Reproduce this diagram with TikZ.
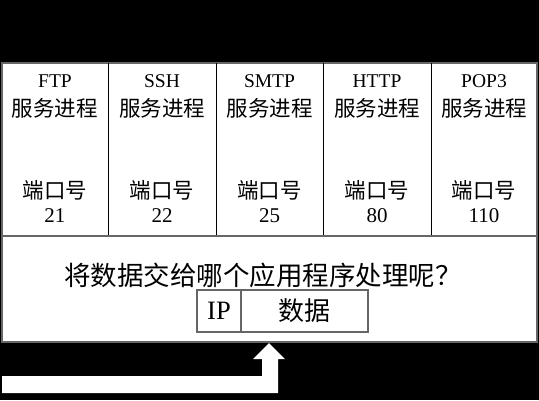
\documentclass[tikz,border=0pt]{standalone}
\usepackage{fontspec}
\setmainfont{Liberation Serif}
\newfontfamily\cjk{Noto Sans CJK SC}
\begin{document}
\begin{tikzpicture}[x=1pt,y=-1pt,
  lat/.style={font=\fontsize{19.5}{19.5}\selectfont, inner sep=0pt, anchor=center},
  num/.style={font=\fontsize{21}{21}\selectfont, inner sep=0pt, anchor=center},
  han/.style={font=\cjk\fontsize{21.5}{22}\selectfont, inner sep=0pt, anchor=center},
  big/.style={font=\cjk\fontsize{26.5}{26.5}\selectfont, inner sep=0pt, anchor=center},
  mid/.style={font=\cjk\fontsize{26}{26}\selectfont, inner sep=0pt, anchor=center},
  biglat/.style={font=\fontsize{26.5}{26.5}\selectfont, inner sep=0pt, anchor=center},
  frame/.style={draw=black!60, line width=1.2pt}]
\fill[black] (0,0) rectangle (539,400);
\useasboundingbox (0,0) rectangle (539,400);
\fill[white] (2,63) rectangle (537,342);
\draw[frame] (2,63) rectangle (537,342);
\foreach \x in {108,216,323,431} \draw[black, line width=1pt] (\x,63) -- (\x,236);
\draw[frame] (2,236) -- (537,236);
% columns
\foreach \cx/\nm/\pt/\id in {55/FTP/21/a, 162/SSH/22/b, 269.5/SMTP/25/c, 377/HTTP/80/d, 484/POP3/110/e}{
  \node[lat] (p\id) at (\cx,81.5) {\nm};
  \node[han] (s\id) at (\cx,108) {服务进程};
  \node[han] (k\id) at (\cx,190) {端口号};
  \node[num] (n\id) at (\cx,216) {\pt};
}
\node[big] (q) at (263,275) {将数据交给哪个应用程序处理呢？};
\draw[frame] (197,290) rectangle (368,332);
\draw[frame] (241,290) -- (241,332);
\node[biglat] (ip) at (219,311) {IP};
\node[mid] (data) at (304.5,311) {数据};
\fill[white] (2,376) -- (262,376) -- (262,359) -- (253,359) -- (269,343) -- (285,359) -- (278,359) -- (278,393) -- (2,393) -- cycle;
\end{tikzpicture}
\end{document}
